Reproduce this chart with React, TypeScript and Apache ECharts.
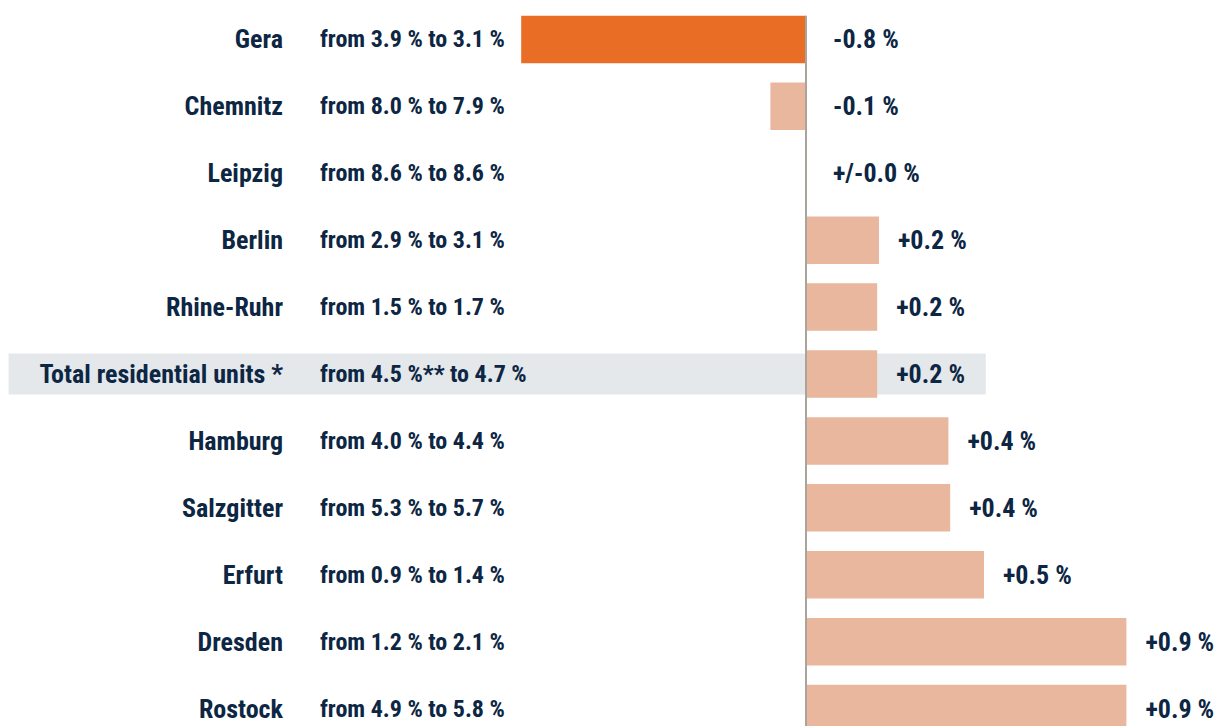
import React, { useEffect, useRef } from "react";
import * as echarts from "echarts";

const categories = [
  "Gera",
  "Chemnitz",
  "Leipzig",
  "Berlin",
  "Rhine-Ruhr",
  "Total residential units *",
  "Hamburg",
  "Salzgitter",
  "Erfurt",
  "Dresden",
  "Rostock",
];

const ranges = [
  "from 3.9 % to 3.1 %",
  "from 8.0 % to 7.9 %",
  "from 8.6 % to 8.6 %",
  "from 2.9 % to 3.1 %",
  "from 1.5 % to 1.7 %",
  "from 4.5 %** to 4.7 %",
  "from 4.0 % to 4.4 %",
  "from 5.3 % to 5.7 %",
  "from 0.9 % to 1.4 %",
  "from 1.2 % to 2.1 %",
  "from 4.9 % to 5.8 %",
];

const changes = [-0.8, -0.1, 0, 0.205, 0.2, 0.2, 0.4, 0.405, 0.5, 0.9, 0.9];

const changeLabels = [
  "-0.8 %",
  "-0.1 %",
  "+/-0.0 %",
  "+0.2 %",
  "+0.2 %",
  "+0.2 %",
  "+0.4 %",
  "+0.4 %",
  "+0.5 %",
  "+0.9 %",
  "+0.9 %",
];

const highlightIndex = 5;
const highlightEnd = 0.505;

const xMin = -2.24;
const xMax = 1.1;
const pxPerUnit = 356;
const zeroX = 806;

const TEXT = "#0c2643";
const FONT = "'Roboto Condensed', 'Liberation Sans Narrow', sans-serif";
const ORANGE = "#e96d25";
const LIGHT = "#e9b79d";
const HIGHLIGHT = "#e4e8eb";
const ZERO_LINE = "#aaa59c";

export default function App() {
  const ref = useRef<HTMLDivElement>(null);

  useEffect(() => {
    if (!ref.current) return;
    const chart = echarts.init(ref.current, undefined, { renderer: "svg" });
    const left = zeroX + xMin * pxPerUnit;
    const width = (xMax - xMin) * pxPerUnit;
    const top = 6;
    const height = 736;

    const textStyle = {
      color: TEXT,
      fontFamily: FONT,
      fontWeight: "bold" as const,
      fontSize: 26,
    };

    const catAxisBase = {
      type: "category" as const,
      data: categories,
      inverse: true,
      position: "left" as const,
      z: 10,
      axisLine: { show: false, onZero: false },
      axisTick: { show: false },
      splitLine: { show: false },
    };

    const option = {
      animation: false,
      grid: {
        left,
        top,
        width,
        height,
        containLabel: false,
        outerBoundsMode: "none",
      },
      xAxis: {
        type: "value",
        min: xMin,
        max: xMax,
        show: false,
      },
      yAxis: [
        {
          ...catAxisBase,
          axisLabel: {
            ...textStyle,
            inside: true,
            align: "right",
            margin: 283 - left,
            interval: 0,
          },
        },
        {
          ...catAxisBase,
          axisLabel: {
            ...textStyle,
            fontSize: 24,
            inside: true,
            align: "left",
            margin: 320 - left,
            interval: 0,
            formatter: (_v: string, i: number) => ranges[i],
          },
        },
        {
          ...catAxisBase,
          z: 0,
          show: false,
        },
      ],
      series: [
        {
          type: "bar",
          yAxisIndex: 2,
          barWidth: 41,
          barGap: "-100%",
          silent: true,
          z: 1,
          itemStyle: { color: HIGHLIGHT },
          data: categories.map((_, i) => (i === highlightIndex ? xMin : "-")),
        },
        {
          type: "bar",
          yAxisIndex: 2,
          barWidth: 41,
          barGap: "-100%",
          silent: true,
          z: 1,
          itemStyle: { color: HIGHLIGHT },
          data: categories.map((_, i) => (i === highlightIndex ? highlightEnd : "-")),
        },
        {
          type: "bar",
          yAxisIndex: 0,
          barWidth: 47.5,
          barGap: "-100%",
          z: 2,
          data: changes.map((v, i) => ({
            value: v,
            itemStyle: { color: i === 0 ? ORANGE : LIGHT },
          })),
        },
        {
          type: "bar",
          yAxisIndex: 0,
          barWidth: 47.5,
          barGap: "-100%",
          z: 3,
          silent: true,
          itemStyle: { color: "transparent" },
          label: {
            show: true,
            position: "right",
            ...textStyle,
            formatter: (p: any) => changeLabels[p.dataIndex],
          },
          data: changes.map((v) => ({
            value: Math.max(v, 0),
            label: { distance: v > 0 ? 19 : 27 },
          })),
        },
        {
          type: "custom",
          yAxisIndex: 0,
          z: 10,
          silent: true,
          clip: false,
          data: [[0, 0]],
          encode: { x: 0, y: 1 },
          renderItem: (params: any, api: any) => {
            const p = api.coord([0, 0]);
            const band = api.size([0, 1])[1];
            const y1 = p[1] - band * 0.355;
            const y2 = params.coordSys.y + params.coordSys.height;
            return {
              type: "line",
              shape: { x1: p[0], y1, x2: p[0], y2 },
              style: { stroke: ZERO_LINE, lineWidth: 2 },
            };
          },
        },
      ],
    };

    chart.setOption(option as any);
    return () => chart.dispose();
  }, []);

  return (
    <div
      ref={ref}
      style={{ position: "absolute", left: 0, top: 0, width: 1223, height: 726 }}
    />
  );
}
